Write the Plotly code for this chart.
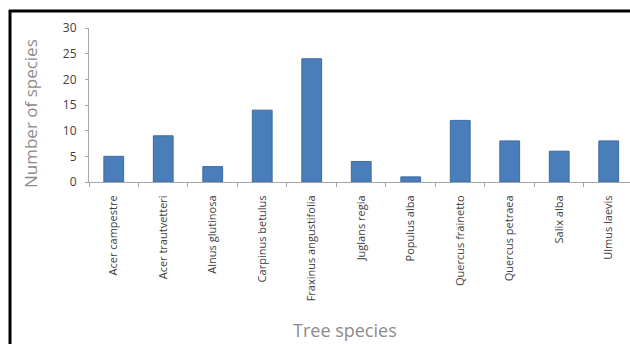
import plotly.graph_objects as go

species = ["Acer campestre", "Acer trautvetteri", "Alnus glutinosa", "Carpinus betulus",
           "Fraxinus angustifolia", "Juglans regia", "Populus alba", "Quercus frainetto",
           "Quercus petraea", "Salix alba", "Ulmus laevis"]
counts = [5, 9, 3, 14, 24, 4, 1, 12, 8, 6, 8]
y_ticks = [0, 5, 10, 15, 20, 25, 30]

W, H = 630, 344
L, R, T, B = 89, 0, 28, 162
pw, ph = W - L - R, H - T - B

def px_x(x):
    return (x - L) / pw

def px_y(y):
    return (H - B - y) / ph

fig = go.Figure(go.Bar(
    x=species, y=counts,
    marker=dict(color="#4a7ebb", line=dict(color="#3d6aa3", width=1)),
))

fig.update_layout(
    width=W, height=H,
    margin=dict(l=L, r=R, t=T, b=B),
    paper_bgcolor="white", plot_bgcolor="white",
    bargap=0.6,
    showlegend=False,
    font=dict(family="Open Sans, sans-serif", color="#404040"),
    xaxis=dict(
        range=[-0.5, 10.43],
        showline=True, linecolor="#a6a6a6", linewidth=1,
        ticks="outside", tickson="boundaries", ticklen=4, tickcolor="#a6a6a6",
        tickangle=-90, tickfont=dict(size=11, color="#404040"),
        ticklabelstandoff=8,
        showgrid=False,
    ),
    yaxis=dict(
        range=[0, 30], tickvals=y_ticks,
        showline=True, linecolor="#a6a6a6", linewidth=1,
        ticks="outside", ticklen=3, tickcolor="#a6a6a6",
        tickfont=dict(size=12, color="#404040"),
        ticklabelstandoff=6,
        showgrid=False, zeroline=False,
    ),
    annotations=[
        dict(text="Tree species", xref="paper", yref="paper",
             x=px_x(345), y=px_y(330), xanchor="center", yanchor="middle",
             showarrow=False, font=dict(size=18, color="#8c8c8c")),
        dict(text="Number of species", xref="paper", yref="paper",
             x=px_x(30), y=px_y(114), xanchor="center", yanchor="middle",
             textangle=-90, showarrow=False, font=dict(size=17, color="#8c8c8c")),
    ],
    shapes=[
        dict(type="line", xref="paper", yref="paper",
             x0=px_x(10), x1=px_x(10), y0=px_y(10), y1=px_y(344),
             line=dict(color="black", width=3)),
        dict(type="line", xref="paper", yref="paper",
             x0=px_x(9), x1=px_x(630), y0=px_y(11), y1=px_y(11),
             line=dict(color="black", width=3)),
    ],
)

fig.write_html("out.html")
